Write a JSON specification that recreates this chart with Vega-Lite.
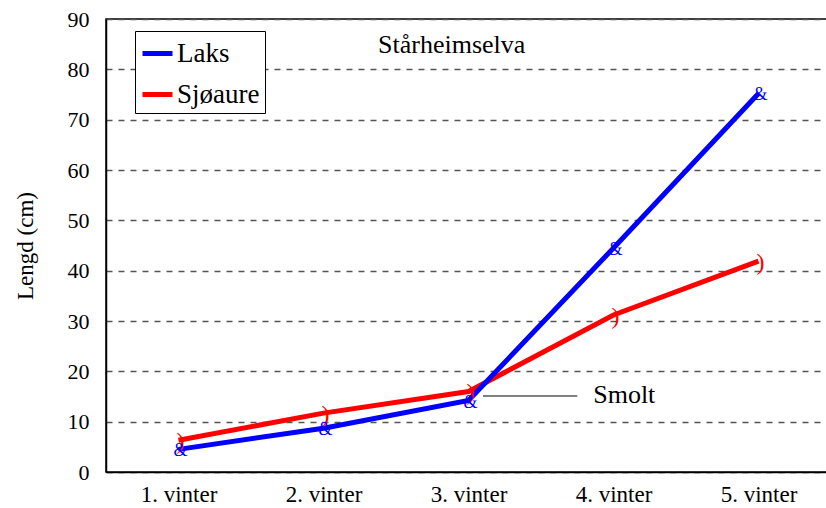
{
  "$schema": "https://vega.github.io/schema/vega-lite/v6.json",
  "width": 725,
  "height": 453,
  "autosize": {"type": "none"},
  "padding": {"left": 106, "top": 19, "right": 0, "bottom": 36},
  "background": "white",
  "config": {
    "font": "Liberation Serif",
    "view": {"stroke": "black", "strokeWidth": 1.5},
    "axis": {"labelFont": "Liberation Serif", "titleFont": "Liberation Serif", "labelColor": "black", "titleColor": "black"}
  },
  "datasets": {
    "series": [
      {"vinter": 1, "art": "Sjøaure", "lengd": 6.3},
      {"vinter": 2, "art": "Sjøaure", "lengd": 11.7},
      {"vinter": 3, "art": "Sjøaure", "lengd": 16.0},
      {"vinter": 4, "art": "Sjøaure", "lengd": 31.2},
      {"vinter": 5, "art": "Sjøaure", "lengd": 41.9},
      {"vinter": 1, "art": "Laks", "lengd": 4.5},
      {"vinter": 2, "art": "Laks", "lengd": 8.7},
      {"vinter": 3, "art": "Laks", "lengd": 14.2},
      {"vinter": 4, "art": "Laks", "lengd": 44.5},
      {"vinter": 5, "art": "Laks", "lengd": 75.2}
    ],
    "notes": [
      {"x": 2.376, "y": 84.8, "label": "Stårheimselva"},
      {"x": 3.86, "y": 15.2, "label": "Smolt"}
    ],
    "leader": [
      {"x": 3.1, "x2": 3.75, "y": 15.1}
    ]
  },
  "layer": [
    {
      "data": {"name": "series"},
      "mark": {"type": "line", "strokeWidth": 5},
      "encoding": {
        "x": {
          "field": "vinter", "type": "quantitative",
          "scale": {"domain": [0.5, 5.5], "nice": false, "zero": false},
          "axis": {
            "values": [1, 2, 3, 4, 5],
            "labelExpr": "datum.value + '. vinter'",
            "grid": false, "ticks": false, "title": null,
            "labelFontSize": 23, "labelPadding": 11,
            "domainColor": "black", "domainWidth": 1.5
          }
        },
        "y": {
          "field": "lengd", "type": "quantitative",
          "scale": {"domain": [0, 90], "nice": false},
          "axis": {
            "values": [0, 10, 20, 30, 40, 50, 60, 70, 80, 90],
            "title": "Lengd (cm)", "titleFontSize": 23, "titleFontWeight": "normal",
            "titlePadding": 30,
            "labelFontSize": 22, "labelPadding": 17, "ticks": false,
            "domainColor": "black", "domainWidth": 1.5,
            "grid": true, "gridColor": "#555555", "gridDash": [6, 6], "gridWidth": 1.3
          }
        },
        "color": {
          "field": "art", "type": "nominal",
          "scale": {"domain": ["Laks", "Sjøaure"], "range": ["#0000ff", "#ff0000"]},
          "legend": {
            "title": null, "orient": "none", "legendX": 29, "legendY": 12,
            "strokeColor": "black", "fillColor": "white", "padding": 5,
            "labelFont": "Liberation Serif", "labelFontSize": 27, "labelColor": "black",
            "symbolType": "stroke", "symbolStrokeWidth": 5, "symbolSize": 900,
            "rowPadding": 10, "labelOffset": 2
          }
        },
        "order": {"field": "vinter", "type": "quantitative"}
      }
    },
    {
      "data": {"name": "series"},
      "mark": {"type": "text", "font": "Liberation Serif", "dx": 2, "dy": 2},
      "encoding": {
        "x": {"field": "vinter", "type": "quantitative"},
        "y": {"field": "lengd", "type": "quantitative"},
        "text": {"condition": {"test": "datum.art === 'Laks'", "value": "&"}, "value": ")"},
        "size": {"condition": {"test": "datum.art === 'Laks'", "value": 18}, "value": 24},
        "color": {"field": "art", "type": "nominal", "legend": null}
      }
    },
    {
      "data": {"name": "leader"},
      "mark": {"type": "rule", "color": "black", "strokeWidth": 1},
      "encoding": {
        "x": {"field": "x", "type": "quantitative"},
        "x2": {"field": "x2"},
        "y": {"field": "y", "type": "quantitative"}
      }
    },
    {
      "data": {"name": "notes"},
      "mark": {"type": "text", "fontSize": 26, "font": "Liberation Serif", "color": "black", "align": "left", "baseline": "middle"},
      "encoding": {
        "x": {"field": "x", "type": "quantitative"},
        "y": {"field": "y", "type": "quantitative"},
        "text": {"field": "label"}
      }
    }
  ],
  "resolve": {"legend": {"color": "independent"}}
}
